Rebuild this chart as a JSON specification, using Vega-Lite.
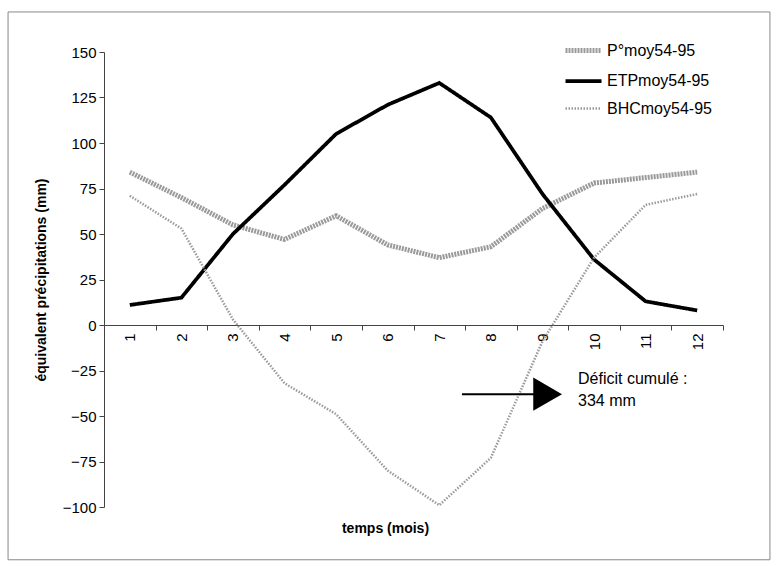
{
  "$schema": "https://vega.github.io/schema/vega-lite/v6.json",
  "width": 619,
  "height": 455,
  "autosize": {"type": "none"},
  "padding": {"left": 104, "top": 52, "right": 53, "bottom": 59},
  "background": "white",
  "config": {
    "view": {"stroke": null},
    "font": "Liberation Sans",
    "axis": {"labelFont": "Liberation Sans", "titleFont": "Liberation Sans", "labelColor": "#000", "titleColor": "#000", "domainColor": "#444", "tickColor": "#444", "grid": false},
    "legend": {"title": null, "orient": "none", "legendX": 459, "legendY": -22, "symbolType": "stroke", "symbolSize": 1296, "labelFontSize": 16, "labelColor": "#000", "rowPadding": -6, "labelOffset": 3, "labelFont": "Liberation Sans"}
  },
  "datasets": {
    "series": [
      {"mois": 1, "serie": "P°moy54-95", "mm": 84},
      {"mois": 2, "serie": "P°moy54-95", "mm": 70},
      {"mois": 3, "serie": "P°moy54-95", "mm": 55},
      {"mois": 4, "serie": "P°moy54-95", "mm": 47},
      {"mois": 5, "serie": "P°moy54-95", "mm": 60},
      {"mois": 6, "serie": "P°moy54-95", "mm": 44},
      {"mois": 7, "serie": "P°moy54-95", "mm": 37},
      {"mois": 8, "serie": "P°moy54-95", "mm": 43},
      {"mois": 9, "serie": "P°moy54-95", "mm": 64},
      {"mois": 10, "serie": "P°moy54-95", "mm": 78},
      {"mois": 11, "serie": "P°moy54-95", "mm": 81},
      {"mois": 12, "serie": "P°moy54-95", "mm": 84},
      {"mois": 1, "serie": "ETPmoy54-95", "mm": 11},
      {"mois": 2, "serie": "ETPmoy54-95", "mm": 15},
      {"mois": 3, "serie": "ETPmoy54-95", "mm": 50},
      {"mois": 4, "serie": "ETPmoy54-95", "mm": 77},
      {"mois": 5, "serie": "ETPmoy54-95", "mm": 105},
      {"mois": 6, "serie": "ETPmoy54-95", "mm": 121},
      {"mois": 7, "serie": "ETPmoy54-95", "mm": 133},
      {"mois": 8, "serie": "ETPmoy54-95", "mm": 114},
      {"mois": 9, "serie": "ETPmoy54-95", "mm": 72},
      {"mois": 10, "serie": "ETPmoy54-95", "mm": 36},
      {"mois": 11, "serie": "ETPmoy54-95", "mm": 13},
      {"mois": 12, "serie": "ETPmoy54-95", "mm": 8},
      {"mois": 1, "serie": "BHCmoy54-95", "mm": 71},
      {"mois": 2, "serie": "BHCmoy54-95", "mm": 53},
      {"mois": 3, "serie": "BHCmoy54-95", "mm": 3},
      {"mois": 4, "serie": "BHCmoy54-95", "mm": -32},
      {"mois": 5, "serie": "BHCmoy54-95", "mm": -49},
      {"mois": 6, "serie": "BHCmoy54-95", "mm": -80},
      {"mois": 7, "serie": "BHCmoy54-95", "mm": -99},
      {"mois": 8, "serie": "BHCmoy54-95", "mm": -73},
      {"mois": 9, "serie": "BHCmoy54-95", "mm": -9},
      {"mois": 10, "serie": "BHCmoy54-95", "mm": 37},
      {"mois": 11, "serie": "BHCmoy54-95", "mm": 66},
      {"mois": 12, "serie": "BHCmoy54-95", "mm": 72}
    ],
    "note": [
      {"x": 7.44, "x2": 8.9, "tip": 9.1, "tx": 9.69, "y": -38, "ty": -25}
    ]
  },
  "resolve": {"axis": {"x": "independent"}},
  "layer": [
    {
      "data": {"values": [{"x": -1.36, "x2": 13.41, "y": 172, "y2": -129}]},
      "mark": {"type": "rect", "fill": null, "stroke": "#888", "strokeWidth": 1, "clip": false},
      "encoding": {
        "x": {"field": "x", "type": "quantitative", "scale": {"domain": [0.5, 12.5], "nice": false, "zero": false},
              "axis": {"orient": "bottom", "offset": -182, "values": [0.5,1.5,2.5,3.5,4.5,5.5,6.5,7.5,8.5,9.5,10.5,11.5,12.5], "labels": false, "domain": false, "ticks": true, "tickSize": 5, "title": null}},
        "x2": {"field": "x2"},
        "y": {"field": "y", "type": "quantitative"},
        "y2": {"field": "y2"}
      }
    },
    {
      "data": {"name": "series"},
      "mark": {"type": "line", "clip": false},
      "encoding": {
        "x": {"field": "mois", "type": "quantitative",
              "axis": {"orient": "bottom", "offset": -182, "values": [1,2,3,4,5,6,7,8,9,10,11,12], "ticks": false, "labelAngle": -90, "labelAlign": "right", "labelBaseline": "middle", "labelFontSize": 15, "labelPadding": 8, "domain": true, "title": "temps (mois)", "titleFontSize": 14, "titleFontWeight": "bold", "titlePadding": 172, "titleX": 281}},
        "y": {"field": "mm", "type": "quantitative",
              "scale": {"domain": [-100, 150], "nice": false},
              "axis": {"values": [-100,-75,-50,-25,0,25,50,75,100,125,150], "labelFontSize": 15, "tickSize": 5, "labelPadding": 3, "title": "équivalent précipitations (mm)", "titleFontSize": 14, "titleFontWeight": "bold", "titlePadding": 14}},
        "color": {"field": "serie", "type": "nominal",
                  "scale": {"domain": ["P°moy54-95", "ETPmoy54-95", "BHCmoy54-95"], "range": ["#9a9a9a", "#000000", "#9a9a9a"]}},
        "strokeWidth": {"field": "serie", "type": "nominal",
                        "scale": {"domain": ["P°moy54-95", "ETPmoy54-95", "BHCmoy54-95"], "range": [5, 2.5, 1.5]}},
        "strokeDash": {"field": "serie", "type": "nominal",
                       "scale": {"domain": ["P°moy54-95", "ETPmoy54-95", "BHCmoy54-95"], "range": [[2, 1], [1, 0], [1.5, 1.5]]}}
      }
    },
    {
      "data": {"name": "note"},
      "mark": {"type": "rule", "color": "#000", "strokeWidth": 2},
      "encoding": {
        "x": {"field": "x", "type": "quantitative", "axis": null},
        "x2": {"field": "x2"},
        "y": {"field": "y", "type": "quantitative"}
      }
    },
    {
      "data": {"name": "note"},
      "mark": {"type": "point", "shape": "triangle-right", "filled": true, "fill": "#000", "strokeWidth": 0, "size": 1100, "opacity": 1},
      "encoding": {
        "x": {"field": "tip", "type": "quantitative", "axis": null},
        "y": {"field": "y", "type": "quantitative"}
      }
    },
    {
      "data": {"name": "note"},
      "mark": {"type": "text", "align": "left", "baseline": "top", "fontSize": 16, "lineHeight": 22, "fill": "#000", "font": "Liberation Sans"},
      "encoding": {
        "x": {"field": "tx", "type": "quantitative", "axis": null},
        "y": {"field": "ty", "type": "quantitative"},
        "text": {"value": ["Déficit cumulé :", "334 mm"]}
      }
    }
  ]
}
